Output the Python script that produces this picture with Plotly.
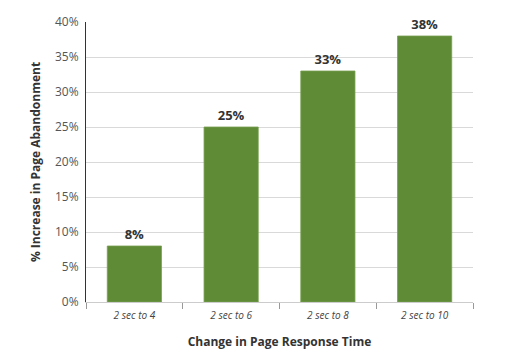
import plotly.graph_objects as go

categories = ["2 sec to 4", "2 sec to 6", "2 sec to 8", "2 sec to 10"]
values = [8, 25, 33, 38]
labels = ["8%", "25%", "33%", "38%"]
y_ticks = [0, 5, 10, 15, 20, 25, 30, 35, 40]
y_tick_text = [f"{v}%" for v in y_ticks]

fig = go.Figure(go.Bar(
    x=categories, y=values, text=labels,
    textposition="outside", cliponaxis=False,
    textfont=dict(family="Open Sans", size=13, color="#333333", weight="bold"),
    marker=dict(color="#5f8b37", line=dict(color="#76a04e", width=0.8)),
    width=0.56,
))

fig.update_layout(
    width=528, height=360,
    margin=dict(l=86, r=55, t=22, b=58),
    paper_bgcolor="white", plot_bgcolor="white",
    font=dict(family="Open Sans", color="#555555"),
    showlegend=False,
    xaxis=dict(
        tickson="boundaries", ticks="outside", ticklen=6, tickcolor="#999999",
        showline=True, linecolor="#cccccc", linewidth=1,
        ticklabelstandoff=4,
        tickfont=dict(size=10, style="italic", color="#444444"),
        title=dict(text="<b>Change in Page Response Time</b>", standoff=16,
                   font=dict(size=12, color="#333333")),
        showgrid=False,
    ),
    yaxis=dict(
        range=[0, 40], tickvals=y_ticks, ticktext=y_tick_text,
        showgrid=True, gridcolor="#d9d9d9", gridwidth=1,
        showline=True, linecolor="#333333", linewidth=1,
        zeroline=False, ticks="", ticklen=0,
        ticklabelstandoff=4,
        tickfont=dict(size=12, color="#555555"),
        title=dict(text="<b>% Increase in Page Abandonment</b>", standoff=11,
                   font=dict(size=12, color="#333333")),
    ),
    bargap=0.44,
)

fig.write_html("out.html")
